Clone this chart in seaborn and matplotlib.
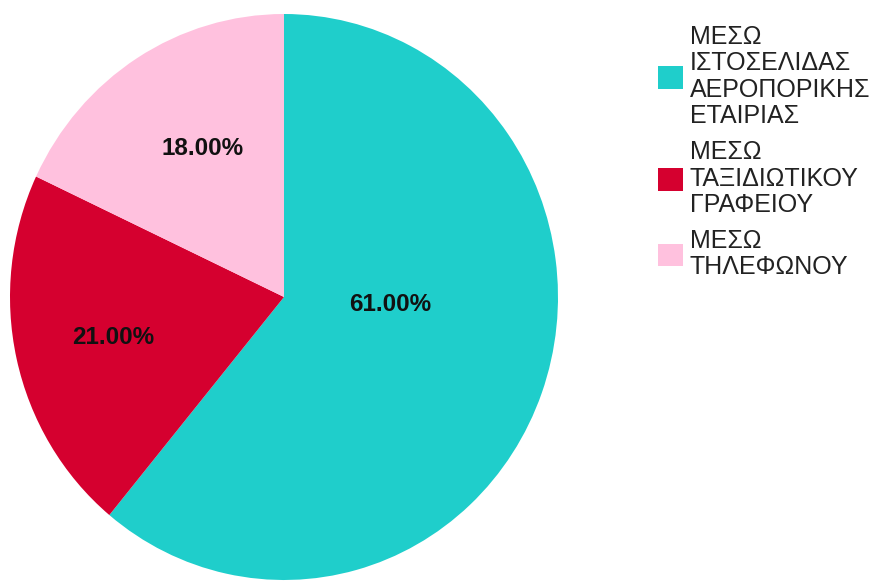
import numpy as np
import matplotlib
matplotlib.use("Agg")
import matplotlib.pyplot as plt
import seaborn as sns

# Booking channel shares (percent)
categories = [
    "ΜΕΣΩ\nΙΣΤΟΣΕΛΙΔΑΣ\nΑΕΡΟΠΟΡΙΚΗΣ\nΕΤΑΙΡΙΑΣ",
    "ΜΕΣΩ\nΤΑΞΙΔΙΩΤΙΚΟΥ\nΓΡΑΦΕΙΟΥ",
    "ΜΕΣΩ\nΤΗΛΕΦΩΝΟΥ",
]
shares = [61.0, 21.0, 18.0]
slice_colors = ["#1FCECB", "#D5002F", "#FFC1DE"]

sns.set_theme(style="white")
plt.rcParams["font.family"] = ["Liberation Sans", "DejaVu Sans"]
palette = sns.color_palette(slice_colors)

W, H = 876, 581
fig = plt.figure(figsize=(W / 100, H / 100), dpi=100)
# pie occupies a slightly tall box on the left
ax = fig.add_axes([10 / W, 1 / H, 548 / W, 566 / H])

wedges, _ = ax.pie(
    shares,
    colors=palette,
    startangle=90,
    counterclock=False,
    wedgeprops=dict(linewidth=0),
)
ax.set_aspect("auto")
ax.set_xlim(-1, 1)
ax.set_ylim(-1, 1)
ax.axis("off")

# value labels: radius fraction and angular shift from the wedge middle
label_radius = [0.39, 0.638, 0.604]
label_shift = [16.0, 0.2, -3.0]
for w, v, r, s in zip(wedges, shares, label_radius, label_shift):
    mid = np.deg2rad((w.theta1 + w.theta2) / 2 + s)
    ax.text(r * np.cos(mid), r * np.sin(mid), f"{v:.2f}%",
            ha="center", va="center", fontsize=17.5, fontweight="bold",
            color="#111111")

leg = fig.legend(
    wedges, categories,
    loc="upper left",
    bbox_to_anchor=(658 / W, 1 - 25 / H),
    frameon=False,
    fontsize=18,
    handlelength=1.0,
    handleheight=1.0,
    handletextpad=0.28,
    labelspacing=0.47,
    borderpad=0,
    borderaxespad=0,
)
for t in leg.get_texts():
    t.set_linespacing(1.13)
    t.set_color("#222222")

fig.savefig("out.png", dpi=100)
